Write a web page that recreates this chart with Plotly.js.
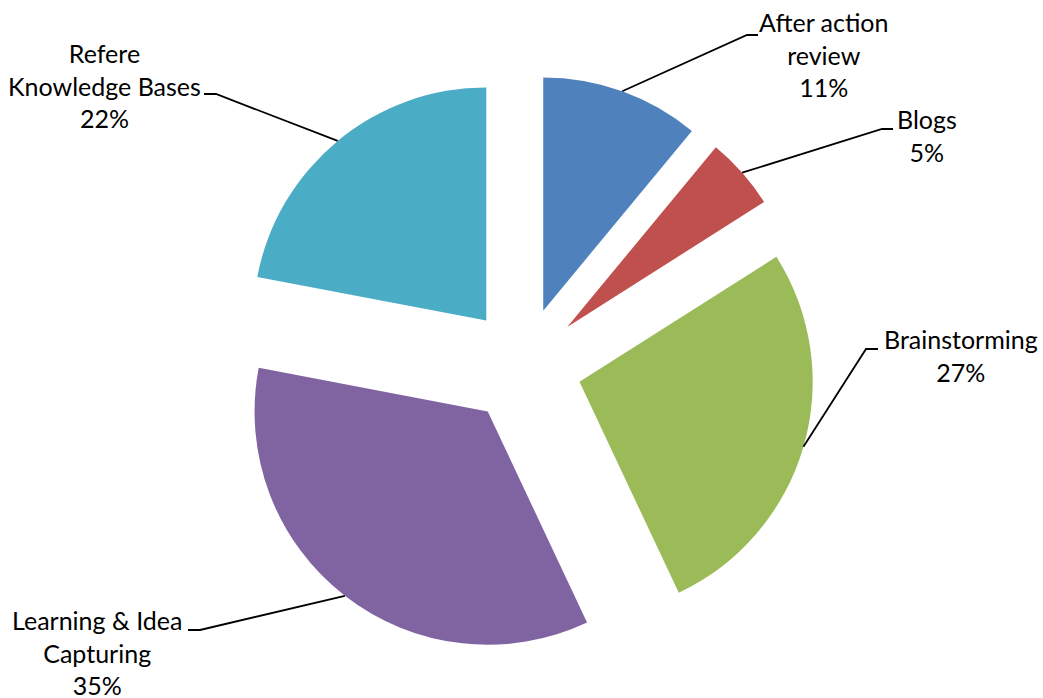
<!DOCTYPE html>
<html><head><meta charset="utf-8">
<script src="https://cdn.plot.ly/plotly-3.0.1.min.js"></script>
<style>html,body{margin:0;padding:0;background:#fff}</style>
</head><body><div id="chart" style="width:1043px;height:698px"></div>
<script>
// ---- data ----
const categories = ["After action review", "Blogs", "Brainstorming", "Learning & Idea Capturing", "Refere Knowledge Bases"];
const labelLines = ["After action<br>review", "Blogs", "Brainstorming", "Learning & Idea<br>Capturing", "Refere<br>Knowledge Bases"];
const values = [11, 5, 27, 35, 22];

// ---- styles / layout ----
const colors = ["#4F81BD", "#C0504D", "#9BBB59", "#8064A2", "#4BACC6"];
const W = 1043, H = 698;
const M = {l: 200, r: 196, t: 74, b: 41};
const PULL = 0.25;
// label placement (pixels): text centre and elbow/end of leader line
const labelPos = [
  {tx: 824, ty: 54,  ex: 747, ey: 35,  fx: 758, fy: 35},
  {tx: 927, ty: 135, ex: 882, ey: 129, fx: 893, fy: 129},
  {tx: 961, ty: 355, ex: 866, ey: 349, fx: 878, fy: 349},
  {tx: 97,  ty: 652, ex: 200, ey: 630, fx: 188, fy: 630},
  {tx: 104, ty: 85,  ex: 216, ey: 94,  fx: 204, fy: 94}
];

const pw = W - M.l - M.r, ph = H - M.t - M.b;
const R = Math.min(pw, ph) / 2 / (1 + PULL);
const CX = M.l + pw / 2, CY = M.t + ph / 2;
const px2x = p => (p - M.l) / pw;
const py2y = p => 1 - (p - M.t) / ph;

const total = values.reduce((a, b) => a + b, 0);
const annotations = [], shapes = [];
let cum = 0;
values.forEach((v, i) => {
  const mid = (cum + v / 2) / total;
  cum += v;
  const th = 2 * Math.PI * mid;
  const ax = CX + R * (1 + PULL) * Math.sin(th);
  const ay = CY - R * (1 + PULL) * Math.cos(th);
  const p = labelPos[i];
  shapes.push({
    type: "path", xref: "paper", yref: "paper",
    path: `M ${px2x(ax)} ${py2y(ay)} L ${px2x(p.ex)} ${py2y(p.ey)} L ${px2x(p.fx)} ${py2y(p.fy)}`,
    line: {color: "#000000", width: 1.8}
  });
  const pct = Math.round(v / total * 100) + "%";
  annotations.push({
    xref: "paper", yref: "paper", x: px2x(p.tx), y: py2y(p.ty),
    xanchor: "center", yanchor: "middle", showarrow: false, align: "center",
    text: labelLines[i] + "<br>" + pct,
    font: {family: "Lato, 'Open Sans', sans-serif", size: 25, color: "#000000"}
  });
});

const trace = {
  type: "pie",
  labels: categories,
  values: values,
  sort: false,
  direction: "clockwise",
  rotation: 0,
  pull: values.map(() => PULL),
  textinfo: "none",
  hoverinfo: "label+percent",
  marker: {colors: colors, line: {width: 0}},
  showlegend: false
};

Plotly.newPlot("chart", [trace], {
  width: W, height: H, margin: M,
  paper_bgcolor: "#ffffff", plot_bgcolor: "#ffffff",
  showlegend: false, annotations: annotations, shapes: shapes
}, {displayModeBar: false, staticPlot: true});
</script>
</body></html>
